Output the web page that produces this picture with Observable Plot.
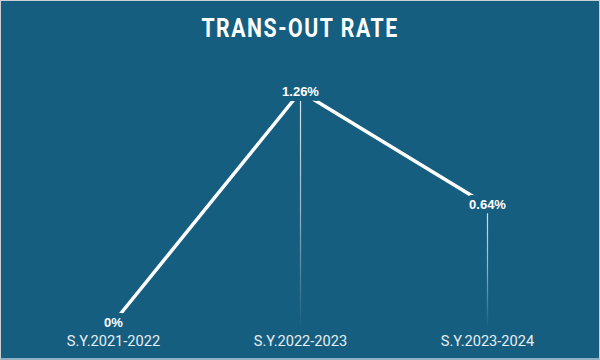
<!DOCTYPE html>
<html>
<head>
<meta charset="utf-8">
<script src="https://cdn.jsdelivr.net/npm/d3@7"></script>
<script src="https://cdn.jsdelivr.net/npm/@observablehq/plot@0.6"></script>
<style>
  html, body { margin: 0; padding: 0; }
  body { width: 600px; height: 360px; overflow: hidden; }
  #wrap { box-sizing: border-box; width: 600px; height: 360px; background: #165e80; border: 1px solid #c9d1d6; border-bottom: 2px solid #8fb0c2; }
  #title { height: 55px; line-height: 56px; text-align: center; }
  #title span { display: inline-block; color: #ffffff; font-family: "Roboto", sans-serif; font-weight: bold; font-size: 25px; letter-spacing: 1.8px; transform: scaleX(0.85); }
</style>
</head>
<body>
<div id="wrap">
  <div id="title"><span>TRANS-OUT RATE</span></div>
  <div id="chart"></div>
</div>
<script>
const years = ["S.Y.2021-2022", "S.Y.2022-2023", "S.Y.2023-2024"];
const rates = [0, 1.26, 0.64];
const rateLabels = ["0%", "1.26%", "0.64%"];

const bg = "#165e80";
const data = years.map((y, i) => ({year: y, rate: rates[i], label: rateLabels[i]}));

const plot = Plot.plot({
  width: 598,
  height: 302,
  marginLeft: 111,
  marginRight: 112,
  marginTop: 35,
  marginBottom: 36,
  style: {background: "transparent", color: "#e6eef3", fontFamily: "Roboto, sans-serif", fontSize: "14.6px"},
  x: {type: "point", domain: years, padding: 0, label: null, tickSize: 0, tickPadding: 13},
  y: {domain: [0, 1.26], axis: null},
  marks: [
    Plot.line(data, {x: "year", y: "rate", stroke: "white", strokeWidth: 3.5}),
    Plot.ruleX(data, {x: "year", y1: 0, y2: "rate", stroke: "white", strokeWidth: 1.2, className: "drop"}),
    Plot.text(data, {x: "year", y: "rate", text: "label", fill: "white", stroke: bg, strokeWidth: 10, fontSize: 13, fontWeight: "bold", fontFamily: "Liberation Sans, Arial, sans-serif", lineAnchor: "middle"})
  ]
});
document.getElementById("chart").appendChild(plot);

// fading gradient on the drop lines, computed from each drawn rule
const svg = d3.select(plot);
const defs = svg.insert("defs", ":first-child");
svg.selectAll("g.drop line").each(function(d, i) {
  const ln = d3.select(this);
  const ya = +ln.attr("y1"), yb = +ln.attr("y2");
  const top = Math.min(ya, yb), bot = Math.max(ya, yb);
  const id = "fade" + i;
  const g = defs.append("linearGradient").attr("id", id).attr("gradientUnits", "userSpaceOnUse")
    .attr("x1", 0).attr("x2", 0).attr("y1", top).attr("y2", bot + 6);
  g.append("stop").attr("offset", "0").attr("stop-color", "white").attr("stop-opacity", 0.85);
  g.append("stop").attr("offset", "0.5").attr("stop-color", "white").attr("stop-opacity", 0.55);
  g.append("stop").attr("offset", "1").attr("stop-color", "white").attr("stop-opacity", 0);
  ln.attr("stroke", `url(#${id})`);
  ln.attr("y1", top).attr("y2", bot + 6);
});
svg.selectAll("g.drop").attr("stroke", null);
</script>
</body>
</html>
